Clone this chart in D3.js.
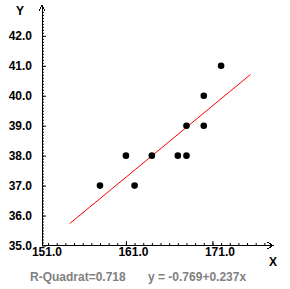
<!DOCTYPE html>
<html>
<head>
<meta charset="utf-8">
<script src="https://cdn.jsdelivr.net/npm/d3@7"></script>
<style>
  body { margin: 0; background: #fff; }
  svg text { font-family: "Liberation Sans", Arial, sans-serif; font-weight: bold; }
</style>
</head>
<body>
<script>
width = 290
height = 289

// data
var xs = [158, 161, 162, 164, 167, 168, 168, 170, 170, 172];
var ys = [37, 38, 37, 38, 38, 38, 39, 39, 40, 41];
var xTicks = [161, 171];
var xLabels = [151, 161, 171];
var yTicks = [35, 36, 37, 38, 39, 40, 41, 42];
// ends of the drawn fit line
var fitX = [154.5, 175.4];
var fitY = [35.73, 40.71];
var r2Text = "R-Quadrat=0.718";
var eqText = "y = -0.769+0.237x";

var x = d3.scaleLinear().domain([151.3, 178]).range([42, 273]);
var y = d3.scaleLinear().domain([35, 43.03]).range([245.5, 5]);

const svg = d3.select('body').append('svg')
  .attr('width', width)
  .attr('height', height);

// y axis: minor ticks, major ticks (right side), labels (left side)
svg.append("g").attr("transform", "translate(42,0)")
  .call(d3.axisRight(y).tickValues(d3.range(351, 429).map(d => d / 10)).tickSize(2).tickFormat(""))
  .call(g => g.select(".domain").remove());
svg.append("g").attr("transform", "translate(42,0)")
  .call(d3.axisRight(y).tickValues(yTicks).tickSize(4).tickFormat(""))
  .call(g => g.select(".domain").remove());
svg.append("g").attr("transform", "translate(42,0)")
  .call(d3.axisLeft(y).tickValues(yTicks).tickSize(0).tickPadding(10).tickFormat(d3.format(".1f")))
  .call(g => g.select(".domain").remove())
  .call(g => g.selectAll("text").attr("font-size", 12).attr("fill", "#000").attr("font-family", null));

// x axis
svg.append("g").attr("transform", "translate(0,245)")
  .call(d3.axisTop(x).tickValues(d3.range(152, 178)).tickSize(2).tickFormat(""))
  .call(g => g.select(".domain").remove());
svg.append("g").attr("transform", "translate(0,245)")
  .call(d3.axisTop(x).tickValues(xTicks).tickSize(4).tickFormat(""))
  .call(g => g.select(".domain").remove());
svg.append("g").attr("transform", "translate(7,245)")
  .call(d3.axisBottom(x).tickValues(xLabels).tickSize(0).tickPadding(2).tickFormat(d3.format(".1f")))
  .call(g => g.select(".domain").remove())
  .call(g => g.selectAll("text").attr("font-size", 12).attr("fill", "#000").attr("font-family", null));

// axis lines with open arrows
svg.append("path")
  .attr("d", "M42,245.5V5M39,11L42,5L45,11M42,245.5H273M267,242L273,245.5L267,249")
  .attr("fill", "none")
  .attr("stroke", "#000")
  .attr("stroke-width", 1)
  .attr("shape-rendering", "crispEdges");

svg.append("text").attr("x", 20).attr("y", 15).attr("text-anchor", "middle")
  .attr("font-size", 12).text("Y");
svg.append("text").attr("x", 273).attr("y", 266).attr("text-anchor", "middle")
  .attr("font-size", 12).text("X");

// regression line
svg.append("line")
  .attr("x1", x(fitX[0])).attr("y1", y(fitY[0]))
  .attr("x2", x(fitX[1])).attr("y2", y(fitY[1]))
  .attr("stroke", "red")
  .attr("stroke-width", 1);

// points
svg.append("g")
  .selectAll("circle")
  .data(xs)
  .enter().append("circle")
    .attr("cx", d => x(d))
    .attr("cy", (d, i) => y(ys[i]))
    .attr("r", 3.3)
    .attr("fill", "#000");

svg.append("text").attr("x", 30).attr("y", 281)
  .attr("font-size", 12).attr("fill", "#808080").text(r2Text);
svg.append("text").attr("x", 148).attr("y", 281)
  .attr("font-size", 12).attr("fill", "#808080").text(eqText);
</script>
</body>
</html>
